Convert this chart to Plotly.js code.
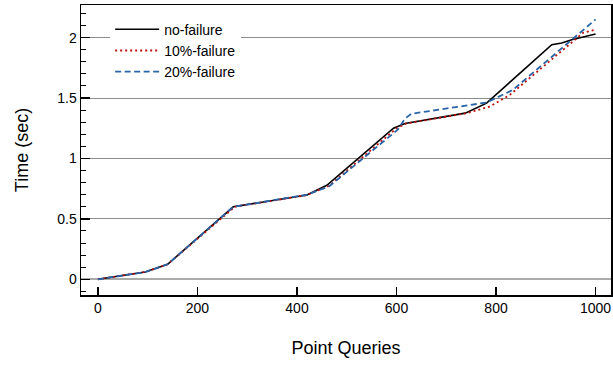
<!DOCTYPE html>
<html>
<head>
<meta charset="utf-8">
<script src="https://cdn.plot.ly/plotly-3.0.1.min.js"></script>
<style>html,body{margin:0;padding:0;background:#fff;}#chart{width:613px;height:370px;}</style>
</head>
<body>
<div id="chart"></div>
<script>
// Series data
const seriesNames = ["no-failure", "10%-failure", "20%-failure"];
const noFailureX = [0, 95, 140, 272, 420, 460, 594, 617, 738, 781, 912, 932, 952, 1000];
const noFailureY = [0, 0.06, 0.124, 0.60, 0.697, 0.778, 1.25, 1.29, 1.375, 1.458, 1.942, 1.956, 1.983, 2.03];
const fail10X = [0, 95, 140, 275, 420, 465, 600, 620, 741, 788, 828, 975, 1000];
const fail10Y = [0, 0.06, 0.124, 0.60, 0.697, 0.775, 1.25, 1.29, 1.375, 1.43, 1.527, 2.04, 2.066];
const fail20X = [0, 95, 140, 272, 420, 465, 603, 617, 630, 781, 834, 1000];
const fail20Y = [0, 0.06, 0.124, 0.60, 0.70, 0.77, 1.24, 1.33, 1.37, 1.463, 1.568, 2.15];
const xTicks = [0, 200, 400, 600, 800, 1000];
const yTicks = [0, 0.5, 1, 1.5, 2];

const font = "Liberation Sans, Arial, Helvetica, sans-serif";

const traces = [
  {x: noFailureX, y: noFailureY, name: seriesNames[0], mode: "lines",
   line: {color: "#000000", width: 1.6, dash: "solid"}},
  {x: fail10X, y: fail10Y, name: seriesNames[1], mode: "lines",
   line: {color: "#c0100c", width: 1.8, dash: "2px,3px"}},
  {x: fail20X, y: fail20Y, name: seriesNames[2], mode: "lines",
   line: {color: "#2a64a8", width: 1.8, dash: "6px,3.5px"}}
];

const layout = {
  width: 613, height: 370,
  margin: {l: 81, r: 2, t: 5, b: 75, pad: 0},
  paper_bgcolor: "#ffffff", plot_bgcolor: "#ffffff",
  font: {family: font, size: 14, color: "#000"},
  showlegend: true,
  legend: {x: 0.055, y: 0.97, xanchor: "left", yanchor: "top",
    bgcolor: "#ffffff", borderwidth: 0, font: {family: font, size: 14, color: "#000"},
    itemwidth: 44, tracegroupgap: 0},
  xaxis: {
    range: [-34, 1031], tickmode: "array", tickvals: xTicks, ticktext: xTicks.map(String),
    ticks: "inside", ticklen: 8, tickwidth: 1.5, tickcolor: "#000",
    showline: true, linecolor: "#000", linewidth: 1.5, mirror: true,
    showgrid: false, zeroline: false,
    tickfont: {family: font, size: 14, color: "#000"},
    title: {text: "Point Queries", font: {family: font, size: 18, color: "#000"}, standoff: 26}
  },
  yaxis: {
    range: [-0.13, 2.27], tickmode: "linear", tick0: yTicks[0], dtick: yTicks[1] - yTicks[0],
    ticks: "inside", ticklen: 9, tickwidth: 1.5, tickcolor: "#000",
    minor: {tickmode: "linear", tick0: 0, dtick: 0.1, ticks: "inside", ticklen: 5, tickwidth: 1, tickcolor: "#000", showgrid: false},
    showline: true, linecolor: "#000", linewidth: 1.5, mirror: true,
    showgrid: true, gridcolor: "#8c8c8c", gridwidth: 1,
    zeroline: true, zerolinecolor: "#aaaaaa", zerolinewidth: 2,
    tickfont: {family: font, size: 14, color: "#000"},
    title: {text: "Time (sec)", font: {family: font, size: 18, color: "#000"}, standoff: 24}
  }
};

Plotly.newPlot("chart", traces, layout, {staticPlot: true, displayModeBar: false});
</script>
</body>
</html>
